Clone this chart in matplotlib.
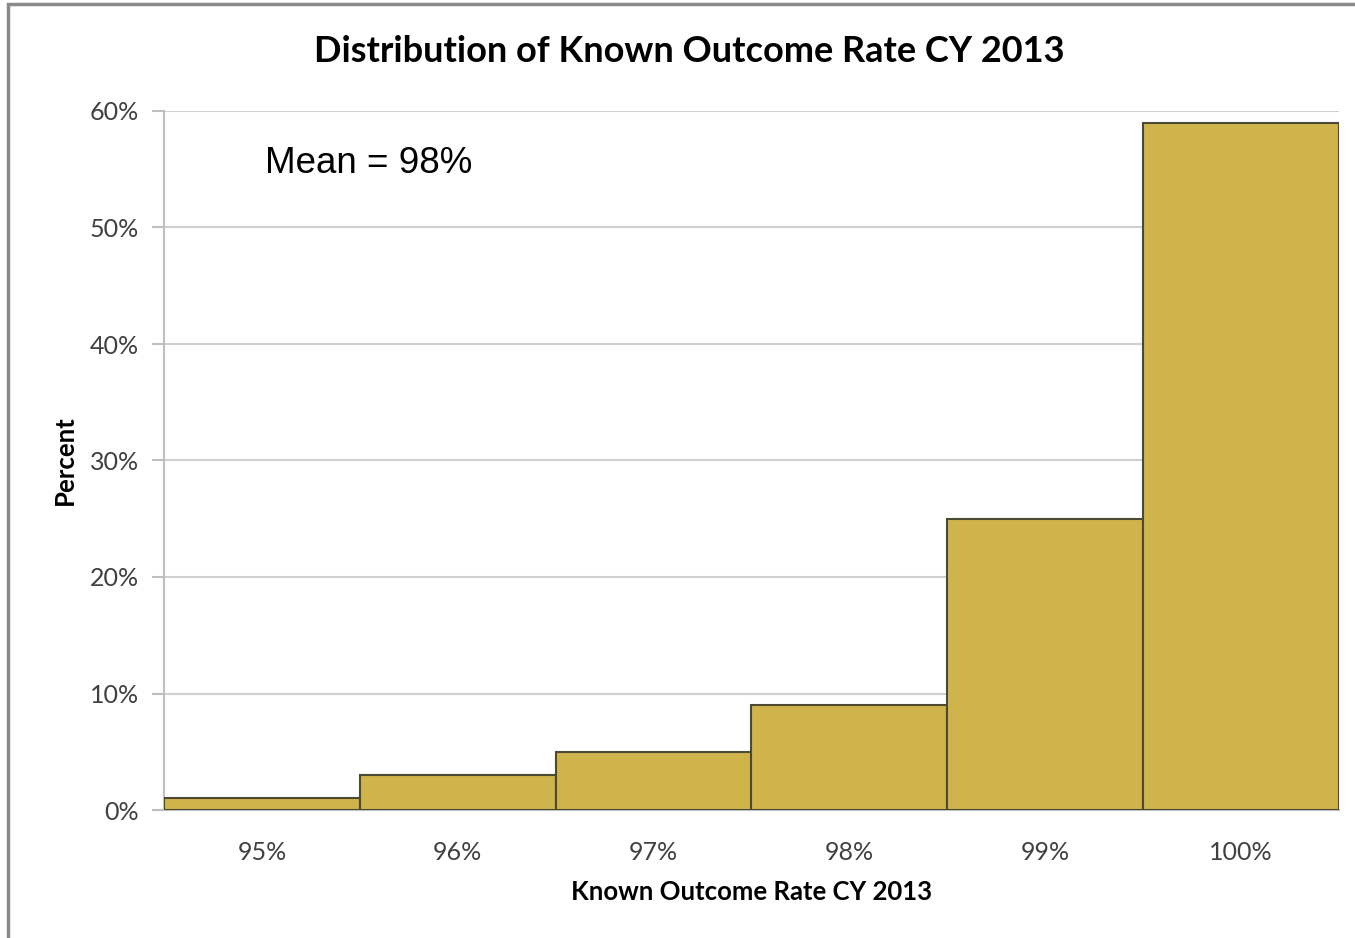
import matplotlib.pyplot as plt
from matplotlib.patches import Rectangle
from matplotlib.ticker import PercentFormatter

# data
categories = ["95%", "96%", "97%", "98%", "99%", "100%"]
percents = [1, 3, 5, 9, 25, 59]
y_ticks = [0, 10, 20, 30, 40, 50, 60]

plt.rcParams['font.family'] = ['Lato', 'DejaVu Sans']

fig = plt.figure(figsize=(13.55, 9.38), dpi=100)
ax = fig.add_axes([164/1355, 128/938, 1175/1355, 699/938])

x = range(len(categories))
ax.bar(x, percents, width=1.0, color="#CFB34B", edgecolor="#4d4a33", linewidth=1.5, zorder=3)

ax.set_xlim(-0.5, len(categories) - 0.5)
ax.set_ylim(0, 60)
ax.set_yticks(y_ticks)
ax.yaxis.set_major_formatter(PercentFormatter(decimals=0))
ax.set_xticks(list(x))
ax.set_xticklabels(categories)
ax.grid(axis="y", color="#d0d0d0", linewidth=1.5, zorder=0)

for s in ["top", "right"]:
    ax.spines[s].set_visible(False)
ax.spines["left"].set_color("#bfbfbf")
ax.spines["bottom"].set_color("#bfbfbf")
ax.spines["left"].set_linewidth(1.5)
ax.spines["bottom"].set_linewidth(1.5)
ax.tick_params(axis="y", length=9, color="#bfbfbf", width=1.5, labelsize=18, labelcolor="#404040", pad=9)
ax.tick_params(axis="x", length=0, labelsize=18, labelcolor="#404040", pad=22)

ax.set_ylabel("Percent", fontsize=18.5, fontweight="bold", labelpad=9)
ax.set_xlabel("Known Outcome Rate CY 2013", fontsize=18.5, fontweight="bold", labelpad=12)
fig.text(689/1355, 1 - 52/938, "Distribution of Known Outcome Rate CY 2013",
         fontsize=26, fontweight="bold", ha="center", va="center")
ax.text(0.086, 0.925, "Mean = 98%", transform=ax.transAxes, fontsize=26.5,
        family="Liberation Sans", ha="left", va="center")

# outer chart frame
fig.patches.append(Rectangle((8/1355, -0.01), 1.1, 1 - 4/938 + 0.01, transform=fig.transFigure,
                             fill=False, edgecolor="#8a8a8a", linewidth=2.5))

fig.savefig("out.png", dpi=100)
